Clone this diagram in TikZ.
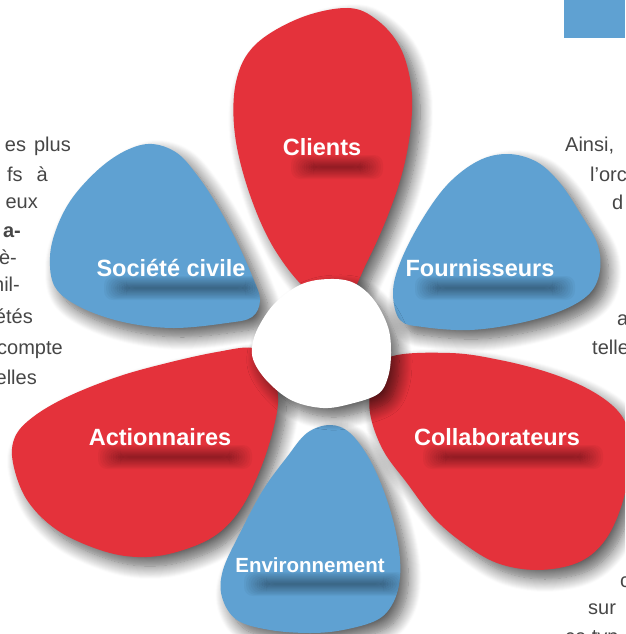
\documentclass[tikz,border=0pt]{standalone}
\usepackage{fontspec}
\setmainfont{Liberation Sans}
\usetikzlibrary{shadows.blur,calc}
\definecolor{petred}{RGB}{228,50,59}
\definecolor{petblue}{RGB}{95,161,210}
\definecolor{bodytext}{RGB}{70,70,70}
\newcommand\petalClients{plot[smooth cycle, tension=0.6] coordinates {
 (348,8) (377,20) (400,47) (411,85) (411,125) (403,170) (388,215) (367,262)
 (345,300) (310,292) (275,250) (250,195) (235,135) (236,82) (255,45) (300,18)}}
\newcommand\petalSociete{plot[smooth cycle, tension=0.6] coordinates {
 (152,144) (177,153) (197,175) (217,205) (237,242) (253,278) (260,300) (252,317)
 (227,323) (173,328) (123,322) (80,307) (55,287) (50,257) (57,227) (73,197)
 (100,168) (127,150)}}
\newcommand\petalFourn{plot[smooth cycle, tension=0.6] coordinates {
 (508,154) (537,162) (560,183) (580,213) (597,243) (600,270) (590,293) (563,310)
 (520,323) (470,330) (423,327) (400,320) (393,293) (400,263) (420,223) (447,185)
 (478,161)}}
\newcommand\petalAction{plot[smooth cycle, tension=0.6] coordinates {
 (253,348) (270,363) (278,397) (273,430) (260,470) (240,510) (213,537) (173,553)
 (137,557) (100,550) (57,530) (27,500) (13,463) (15,437) (33,417) (67,397)
 (117,377) (167,363) (217,352)}}
\newcommand\petalCollab{plot[smooth cycle, tension=0.6] coordinates {
 (390,357) (450,353) (500,360) (550,373) (590,390) (617,410) (628,432) (629,470)
 (620,510) (603,543) (577,563) (537,570) (497,563) (463,543) (433,517) (407,483)
 (383,450) (370,413) (373,383)}}
\newcommand\petalEnvir{plot[smooth cycle, tension=0.6] coordinates {
 (330,425) (350,433) (370,460) (387,500) (398,543) (400,577) (393,603) (377,620)
 (343,630) (310,633) (270,630) (237,620) (222,597) (223,570) (240,533) (263,490)
 (287,457) (307,433)}}
% soft text shadow: #1 centre, #2 core half width, #3 core half height
\newcommand\txtshadow[3]{%
 \foreach \k in {0,...,10}{%
  \fill[black,fill opacity=0.035,rounded corners=9pt]
   ($(#1)+({-#2-\k*2.2},{-#3-\k*1.1})$) rectangle ($(#1)+({#2+\k*2.2},{#3+\k*1.1})$);
 }}
\begin{document}
\begin{tikzpicture}[x=1pt,y=-1pt,
  petal/.style={blur shadow={shadow xshift=8pt,shadow yshift=-9pt,shadow blur radius=13pt,shadow blur steps=14,shadow opacity=65}},
  redpetal/.style={petal,fill=petred},
  bluepetal/.style={petal,fill=petblue},
  centrepetal/.style={petal,fill=white},
  lbl/.style={text=white,font=\bfseries\fontsize{23.5}{28}\selectfont,inner sep=0pt},
  lblsmall/.style={lbl,font=\bfseries\fontsize{20.5}{24}\selectfont},
  bodyr/.style={text=bodytext,font=\fontsize{20}{24}\selectfont,inner sep=0pt,anchor=base east},
  bodyl/.style={text=bodytext,font=\fontsize{20}{24}\selectfont,inner sep=0pt,anchor=base west}]
\useasboundingbox (0,0) rectangle (625,634);
\clip (0,0) rectangle (625,634);

% top-right blue tab
\fill[petblue] (564,0) rectangle (625,38);

% background text, left column
\node[bodyr] (l1) at (71,151) {es\hspace{8pt}plus};
\node[bodyr] (l2) at (48,181) {fs\hspace{14pt}à};
\node[bodyr] (l3) at (38,208) {eux};
\node[bodyr,font=\bfseries\fontsize{20}{24}\selectfont] (l4) at (21,237) {a-};
\node[bodyr] (l5) at (17,264) {è-};
\node[bodyr] (l6) at (20,291) {nil-};
\node[bodyr] (l7) at (33,323) {étés};
\node[bodyr] (l8) at (63,354) {compte};
\node[bodyr] (l9) at (37,384) {elles};

% background text, right column
\node[bodyl] (r1) at (565,151) {Ainsi,};
\node[bodyl] (r2) at (590,181) {l’orc};
\node[bodyl] (r3) at (612,209) {d};
\node[bodyl] (r4) at (617,325) {a};
\node[bodyl] (r5) at (592,354) {telle};
\node[bodyl] (r6) at (620,587) {c};
\node[bodyl] (r7) at (588,614) {sur};
\node[bodyl] (r8) at (565,643) {ce typ};

% petals
\fill[redpetal] \petalClients;
\fill[bluepetal] \petalSociete;
\fill[bluepetal] \petalFourn;
\fill[redpetal] \petalAction;
\fill[redpetal] \petalCollab;
\fill[bluepetal] \petalEnvir;

% centre
\fill[centrepetal] plot[smooth cycle, tension=0.6] coordinates {
 (330,279) (354,283) (374,300) (388,327) (391,353) (388,377) (378,394) (350,404)
 (323,408) (293,401) (270,384) (255,364) (252,347) (259,326) (276,302) (302,284)};

% label anchors
\coordinate (cC) at (322,147);
\coordinate (cS) at (171,268);
\coordinate (cF) at (480,268);
\coordinate (cA) at (160,437);
\coordinate (cK) at (497,437);
\coordinate (cE) at (310,565);
\coordinate (sC) at (337,167);
\coordinate (sS) at (186,288);
\coordinate (sF) at (495,288);
\coordinate (sA) at (175,457);
\coordinate (sK) at (513,457);
\coordinate (sE) at (325,584);

% label shadows
\begin{scope}\clip \petalClients; \txtshadow{sC}{24}{1}\end{scope}
\begin{scope}\clip \petalSociete; \txtshadow{sS}{60}{1}\end{scope}
\begin{scope}\clip \petalFourn; \txtshadow{sF}{58}{1}\end{scope}
\begin{scope}\clip \petalAction; \txtshadow{sA}{55}{1}\end{scope}
\begin{scope}\clip \petalCollab; \txtshadow{sK}{68}{1}\end{scope}
\begin{scope}\clip \petalEnvir; \txtshadow{sE}{59}{1}\end{scope}

% labels
\node[lbl] (clients) at (cC) {Clients};
\node[lbl] (societe) at (cS) {Société civile};
\node[lbl] (fourn) at (cF) {Fournisseurs};
\node[lbl] (action) at (cA) {Actionnaires};
\node[lbl] (collab) at (cK) {Collaborateurs};
\node[lblsmall] (envir) at (cE) {Environnement};
\end{tikzpicture}
\end{document}
